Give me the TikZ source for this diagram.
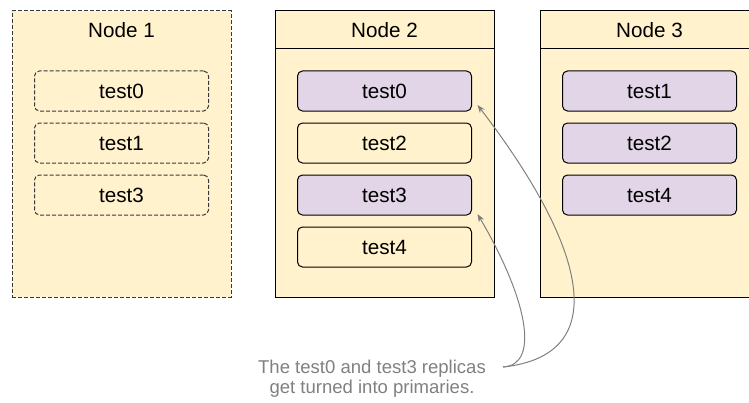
\documentclass[tikz,border=0pt]{standalone}
\usepackage{fontspec}
\setmainfont{Liberation Sans}
\usetikzlibrary{arrows.meta,positioning}

\definecolor{hostfill}{HTML}{FFF2CC}
\definecolor{primfill}{HTML}{E1D5E7}
\definecolor{notegray}{HTML}{808080}
\definecolor{edgedark}{HTML}{36393D}

\begin{document}
\begin{tikzpicture}[
  x=0.75pt, y=-0.75pt,
  host/.style={rectangle, draw, fill=hostfill, anchor=north west, minimum width=164.25pt, minimum height=214.5pt, inner sep=0pt, outer sep=0pt, line width=0.75pt},
  head/.style={rectangle, minimum width=164.25pt, minimum height=28.5pt, inner sep=0pt, outer sep=0pt, font=\fontsize{15.5}{18}\selectfont},
  rep/.style={rectangle, draw, rounded corners=3.75pt, minimum width=130.5pt, minimum height=30pt, inner sep=0pt, outer sep=0pt, line width=0.75pt, font=\fontsize{15.5}{18}\selectfont},
  prim/.style={rep, fill=primfill},
  ghost/.style={rep, draw=edgedark, dash pattern=on 3pt off 1.5pt},
  note/.style={align=center, text=notegray, inner sep=0pt, font=\fontsize{13.9}{15}\selectfont},
  arrow/.style={draw=notegray, line width=0.75pt, -{Stealth[length=6pt, width=4.5pt]}}
]
  \useasboundingbox (0,0) rectangle (749,403);
  \clip (0,0) rectangle (749,403);

  % Node 1 (gone)
  \node[host, draw=edgedark, dash pattern=on 3pt off 1.5pt] (host1) at (12,11) {};
  \node[head, below=0pt of host1.north] (head1) {Node 1};
  \node[ghost, below=16.5pt of head1] (h1t0) {test0};
  \node[ghost, below=9pt of h1t0] (h1t1) {test1};
  \node[ghost, below=9pt of h1t1] (h1t3) {test3};

  % Node 2
  \node[host] (host2) at (275,11) {};
  \node[head, below=0pt of host2.north] (head2) {Node 2};
  \draw[line width=0.75pt] (head2.south west) -- (head2.south east);
  \node[prim, below=16.5pt of head2] (h2t0) {test0};
  \node[rep, below=9pt of h2t0] (h2t2) {test2};
  \node[prim, below=9pt of h2t2] (h2t3) {test3};
  \node[rep, below=9pt of h2t3] (h2t4) {test4};

  % Node 3
  \node[host] (host3) at (540,11) {};
  \node[head, below=0pt of host3.north] (head3) {Node 3};
  \draw[line width=0.75pt] (head3.south west) -- (head3.south east);
  \node[prim, below=16.5pt of head3] (h3t1) {test1};
  \node[prim, below=9pt of h3t1] (h3t2) {test2};
  \node[prim, below=9pt of h3t2] (h3t4) {test4};

  % note and its arrows
  \node[note] (note) at (372,379) {The test0 and test3 replicas\\get turned into primaries.};
  \coordinate (joint) at (503,367);
  \draw[arrow] (joint) .. controls (615,355) and (585,245) .. ([xshift=4.5pt,yshift=4.5pt]h2t0.south east);
  \draw[arrow] (joint) .. controls (540,365) and (528,300) .. ([xshift=4.5pt,yshift=0.75pt]h2t3.south east);
\end{tikzpicture}
\end{document}
